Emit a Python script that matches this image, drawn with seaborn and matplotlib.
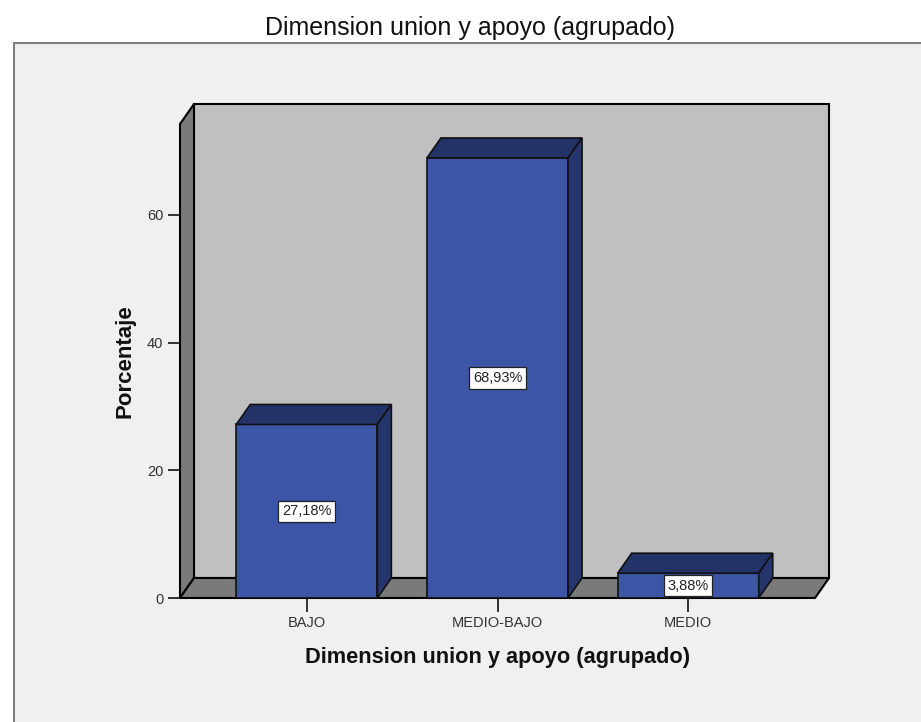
import matplotlib
matplotlib.use("Agg")
import matplotlib.pyplot as plt
import seaborn as sns
import pandas as pd
from matplotlib.patches import Polygon, Rectangle

# datos del grafico
categorias = ["BAJO", "MEDIO-BAJO", "MEDIO"]
porcentajes = [27.18, 68.93, 3.88]
etiquetas = ["27,18%", "68,93%", "3,88%"]
marcas_y = [0, 20, 40, 60]

df = pd.DataFrame({"categoria": categorias, "porcentaje": porcentajes})

sns.set_style("white")
plt.rcParams["font.family"] = ["Liberation Sans", "DejaVu Sans"]

W, H = 921, 722
fig = plt.figure(figsize=(W / 100, H / 100), dpi=100)
fig.patch.set_facecolor("white")

# marco de fondo gris claro
fig.add_artist(Rectangle((14 / W, -0.02), 1.0, 1 - 43 / H + 0.02, transform=fig.transFigure,
                         facecolor="#f0f0f0", edgecolor="#7f7f7f", lw=1.5, zorder=-10))

fig.text(470 / W, 1 - 28 / H, "Dimension union y apoyo (agrupado)", ha="center", va="center",
         fontsize=18, color="#111111")

ax = fig.add_axes([180 / W, 124 / H, 635 / W, 474 / H])
xmin, xmax = -0.665, 2.665
ymin, ymax = 0, 74.25
ax.set_xlim(xmin, xmax)
ax.set_ylim(ymin, ymax)
ax.patch.set_visible(False)
for s in ax.spines.values():
    s.set_visible(False)

# profundidad 3D en pixeles -> unidades de datos
px_x = 635 / (xmax - xmin)
px_y = 474 / (ymax - ymin)
dx = 14 / px_x
dy = 20 / px_y

gris_osc = "#7a7a7a"
# pared izquierda, fondo y piso
ax.add_patch(Polygon([(xmin, 0), (xmin, ymax), (xmin + dx, ymax + dy), (xmin + dx, dy)],
                     closed=True, fc=gris_osc, ec="black", lw=1.5, clip_on=False, zorder=1))
ax.add_patch(Rectangle((xmin + dx, dy), xmax - xmin, ymax, fc="#c0c0c0", ec="black", lw=1.5,
                       clip_on=False, zorder=0.5))
ax.add_patch(Polygon([(xmin, 0), (xmax, 0), (xmax + dx, dy), (xmin + dx, dy)],
                     closed=True, fc=gris_osc, ec="black", lw=1.5, clip_on=False, zorder=1))

sns.barplot(data=df, x="categoria", y="porcentaje", color="#3c55a6", saturation=1,
            width=0.74, edgecolor="#111111", linewidth=1.2, ax=ax, zorder=3)
ax.set_xlim(xmin, xmax)
ax.set_ylim(ymin, ymax)

# caras superior y lateral de cada barra
for bar in ax.patches:
    if not isinstance(bar, Rectangle) or bar.get_zorder() != 3:
        continue
    x0, w, h = bar.get_x(), bar.get_width(), bar.get_height()
    x1 = x0 + w
    ax.add_patch(Polygon([(x0, h), (x1, h), (x1 + dx, h + dy), (x0 + dx, h + dy)],
                         closed=True, fc="#233367", ec="#111111", lw=1.2, clip_on=False, zorder=3))
    ax.add_patch(Polygon([(x1, 0), (x1, h), (x1 + dx, h + dy), (x1 + dx, dy)],
                         closed=True, fc="#26366c", ec="#111111", lw=1.2, clip_on=False, zorder=3))

ax.bar_label(ax.containers[0], labels=etiquetas, label_type="center", fontsize=10.5,
             color="#222222", zorder=6,
             bbox=dict(boxstyle="square,pad=0.25", fc="white", ec="#222222", lw=0.9))

ax.set_yticks(marcas_y)
ax.tick_params(axis="both", direction="out", length=9, width=1.3, color="#222222",
               labelsize=10.5, labelcolor="#333333", pad=3)
ax.tick_params(axis="y", left=True)
ax.tick_params(axis="x", bottom=True, length=10)

ax.set_ylabel("Porcentaje", fontsize=16, fontweight="bold", color="#111111", labelpad=8)
ax.set_xlabel("Dimension union y apoyo (agrupado)", fontsize=15.7, fontweight="bold",
              color="#111111", labelpad=12)

fig.savefig("out.png", dpi=100)
